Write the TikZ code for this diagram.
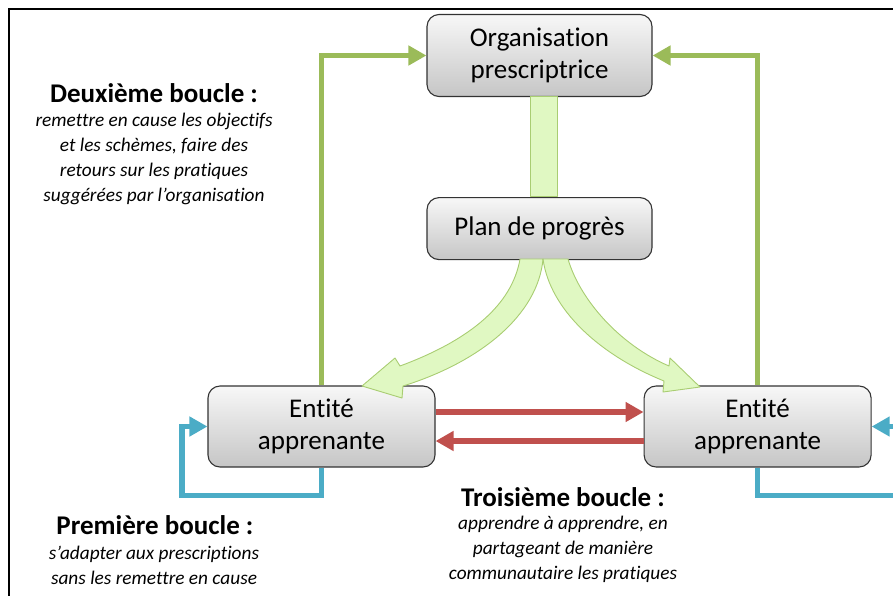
\documentclass[tikz,border=0pt]{standalone}
\usepackage{fontspec}
\setmainfont[Ligatures=CommonOff]{Carlito}
\usepackage{xcolor}
\usepackage{tikz}
\usetikzlibrary{arrows.meta, positioning}

\definecolor{vertboucle}{HTML}{9BBB59}
\definecolor{bleuboucle}{HTML}{4BACC6}
\definecolor{rougeboucle}{HTML}{C0504D}
\definecolor{vertclair}{HTML}{E0F8C2}
\definecolor{vertbord}{HTML}{A9CD72}

\begin{document}
\begin{tikzpicture}[x=1pt, y=-1pt,
  boite/.style={draw=black!80, line width=1.1pt, rounded corners=12pt, top color=gray!6, bottom color=gray!45,
    inner sep=0pt, align=center, font=\fontsize{27}{32}\selectfont},
  titre/.style={font=\bfseries\fontsize{27}{30}\selectfont},
  glose/.style={align=center, font=\itshape\fontsize{19.3}{25}\selectfont},
  fleche/.style={line width=5.5pt, -{Triangle[length=18pt, width=19pt]}},
  large/.style={fill=vertclair, draw=vertbord, line width=0.9pt, line join=round}]
  \useasboundingbox (0,0) rectangle (893,595);
  \clip (0,0) rectangle (893,595);
  \draw[line width=2pt] (9,620) -- (9,9) -- (920,9);

  \node[boite, minimum width=225pt, minimum height=82pt] (org) at (539.5,55.5) {Organisation\\prescriptrice};
  \node[boite, minimum width=225pt, minimum height=62pt, below=100pt of org] (plan) {Plan de progrès};
  \node[boite, minimum width=227pt, minimum height=81pt] (ea) at (321.5,426.5) {Entité\\apprenante};
  \node[boite, minimum width=227pt, minimum height=81pt, right=208pt of ea] (eb) {Entité\\apprenante};

  % plan de progres
  \draw[large] (530,96) rectangle (557,196);
  \draw[large] (520,259) .. controls (512,305) and (470,340) .. (400,366) -- (395,358) -- (362,386)
    -- (402,398) -- (403,386) .. controls (480,362) and (538,315) .. (543,259) -- cycle;
  \draw[large] (543,259) .. controls (550,310) and (600,355) .. (664,381) -- (663,392) -- (700,387)
    -- (670,358) -- (669,366) .. controls (620,345) and (580,300) .. (568,259) -- cycle;

  % boucles
  \draw[fleche, vertboucle] (ea.north) |- (org.west);
  \draw[fleche, vertboucle] (eb.north) |- (org.east);
  \draw[fleche, bleuboucle] (ea.south) -- ++(0,28) -- ++(-139.5,0) |- (ea.west);
  \draw[fleche, bleuboucle] (eb.south) -- ++(0,28) -- ++(150,0) |- (eb.east);
  \draw[fleche, rougeboucle] ([yshift=14.5pt]ea.east) -- ([yshift=14.5pt]eb.west);
  \draw[fleche, rougeboucle] ([yshift=-14.5pt]eb.west) -- ([yshift=-14.5pt]ea.east);

  % textes
  \node[titre] (t2) at (154,93) {Deuxième boucle :};
  \node[glose] (g2) at (154,158.5) {remettre en cause les objectifs\\et les schèmes, faire des\\retours sur les pratiques\\suggérées par l’organisation};
  \node[titre] (t1) at (155,525) {Première boucle :};
  \node[glose] (g1) at (154,565.5) {s’adapter aux prescriptions\\sans les remettre en cause};
  \node[titre] (t3) at (563,497) {Troisième boucle :};
  \node[glose] (g3) at (563,549.5) {apprendre à apprendre, en\\partageant de manière\\communautaire les pratiques};
\end{tikzpicture}
\end{document}
